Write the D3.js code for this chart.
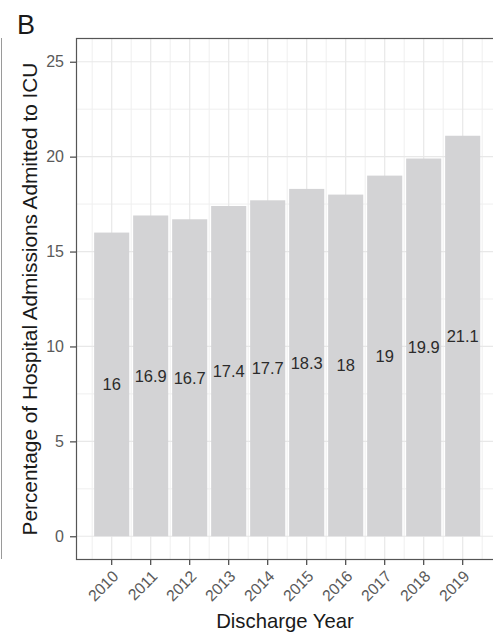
<!DOCTYPE html>
<html>
<head>
<meta charset="utf-8">
<script src="https://cdn.jsdelivr.net/npm/d3@7"></script>
<style>
  html, body { margin: 0; padding: 0; background: #fff; }
  svg { display: block; font-family: "Liberation Sans", Arial, Helvetica, sans-serif; }
</style>
</head>
<body>
<svg id="chart" width="493" height="634"></svg>
<script>
// ICU admission share by discharge year
const years = ["2010", "2011", "2012", "2013", "2014", "2015", "2016", "2017", "2018", "2019"];
const pctIcu = [16, 16.9, 16.7, 17.4, 17.7, 18.3, 18, 19, 19.9, 21.1];
const yTicks = [0, 5, 10, 15, 20, 25];
const yMinor = [2.5, 7.5, 12.5, 17.5, 22.5];

const data = years.map((y, i) => ({ year: y, value: pctIcu[i] }));

const svg = d3.select("#chart");
const panel = { left: 76, right: 494, top: 38, bottom: 560 };

const x = d3.scaleBand()
  .domain(years)
  .range([92.2, 482.2])
  .paddingInner(0.1)
  .paddingOuter(0.05);

const y = d3.scaleLinear()
  .domain([-1.25, 26.25])
  .range([panel.bottom, panel.top]);

const step = x.step();
const center = d => x(d) + x.bandwidth() / 2;

// neighbouring panel edge on the far left
svg.append("line")
  .attr("x1", 1.5).attr("x2", 1.5)
  .attr("y1", panel.top).attr("y2", panel.bottom - 1)
  .attr("stroke", "#9a9a9a").attr("stroke-width", 1);

// panel letter
svg.append("text")
  .attr("x", 17).attr("y", 34)
  .attr("font-size", 27)
  .attr("fill", "#1a1a1a")
  .text("B");

const g = svg.append("g");

g.append("rect")
  .attr("x", panel.left).attr("y", panel.top)
  .attr("width", panel.right - panel.left).attr("height", panel.bottom - panel.top)
  .attr("fill", "#fff");

svg.append("clipPath").attr("id", "panelClip")
  .append("rect")
  .attr("x", panel.left).attr("y", panel.top)
  .attr("width", panel.right - panel.left).attr("height", panel.bottom - panel.top);

const grid = g.append("g").attr("clip-path", "url(#panelClip)");

// minor vertical grid between categories
const xMinor = d3.range(-1, years.length + 1).map(i => x(years[0]) - x.paddingOuter() * step + i * step);
grid.selectAll("line.vminor").data(xMinor).join("line")
  .attr("class", "vminor")
  .attr("x1", d => d).attr("x2", d => d)
  .attr("y1", panel.top).attr("y2", panel.bottom)
  .attr("stroke", "#efefef").attr("stroke-width", 1);

grid.selectAll("line.hminor").data(yMinor).join("line")
  .attr("class", "hminor")
  .attr("x1", panel.left).attr("x2", panel.right)
  .attr("y1", d => y(d)).attr("y2", d => y(d))
  .attr("stroke", "#efefef").attr("stroke-width", 1);

grid.selectAll("line.vmajor").data(years).join("line")
  .attr("class", "vmajor")
  .attr("x1", d => center(d)).attr("x2", d => center(d))
  .attr("y1", panel.top).attr("y2", panel.bottom)
  .attr("stroke", "#e8e8e8").attr("stroke-width", 1.2);

grid.selectAll("line.hmajor").data(yTicks).join("line")
  .attr("class", "hmajor")
  .attr("x1", panel.left).attr("x2", panel.right)
  .attr("y1", d => y(d)).attr("y2", d => y(d))
  .attr("stroke", "#e8e8e8").attr("stroke-width", 1.2);

// bars
g.selectAll("rect.bar").data(data).join("rect")
  .attr("class", "bar")
  .attr("x", d => x(d.year))
  .attr("width", x.bandwidth())
  .attr("y", d => y(d.value))
  .attr("height", d => y(0) - y(d.value))
  .attr("fill", "#d3d3d5");

// value labels at half bar height
g.selectAll("text.val").data(data).join("text")
  .attr("class", "val")
  .attr("x", d => center(d.year))
  .attr("y", d => y(d.value / 2))
  .attr("dy", "0.36em")
  .attr("text-anchor", "middle")
  .attr("font-size", 16.5)
  .attr("fill", "#2b2b2b")
  .text(d => d.value);

// panel border
g.append("rect")
  .attr("x", panel.left + 0.5).attr("y", panel.top + 0.5)
  .attr("width", panel.right - panel.left).attr("height", panel.bottom - panel.top - 1)
  .attr("fill", "none").attr("stroke", "#555").attr("stroke-width", 1.2);

// y axis
const yAxis = d3.axisLeft(y).tickValues(yTicks).tickSize(6).tickPadding(6);
const yg = svg.append("g").attr("transform", `translate(${panel.left},0)`).call(yAxis);
yg.select(".domain").remove();
yg.selectAll(".tick line").attr("stroke", "#444").attr("stroke-width", 1.2);
yg.selectAll(".tick text")
  .attr("font-size", 16)
  .attr("fill", "#5a5a5a")
  .attr("font-family", "'Liberation Sans', Arial, sans-serif");

// x axis
const xAxis = d3.axisBottom(x).tickSize(5).tickPadding(2);
const xg = svg.append("g").attr("transform", `translate(0,${panel.bottom})`).call(xAxis);
xg.select(".domain").remove();
xg.selectAll(".tick line").attr("stroke", "#444").attr("stroke-width", 1.2);
xg.selectAll(".tick text")
  .attr("font-size", 15.8)
  .attr("fill", "#5a5a5a")
  .attr("font-family", "'Liberation Sans', Arial, sans-serif")
  .attr("text-anchor", "end")
  .attr("transform", "translate(0,9.5) rotate(-45)")
  .attr("dy", "0.7em")
  .attr("y", 0);

// axis titles
svg.append("text")
  .attr("x", (panel.left + panel.right) / 2)
  .attr("y", 628)
  .attr("text-anchor", "middle")
  .attr("font-size", 20.3)
  .attr("fill", "#1a1a1a")
  .text("Discharge Year");

svg.append("text")
  .attr("transform", `translate(37,${(panel.top + panel.bottom) / 2}) rotate(-90)`)
  .attr("text-anchor", "middle")
  .attr("font-size", 20.8)
  .attr("fill", "#1a1a1a")
  .text("Percentage of Hospital Admissions Admitted to ICU");
</script>
</body>
</html>
